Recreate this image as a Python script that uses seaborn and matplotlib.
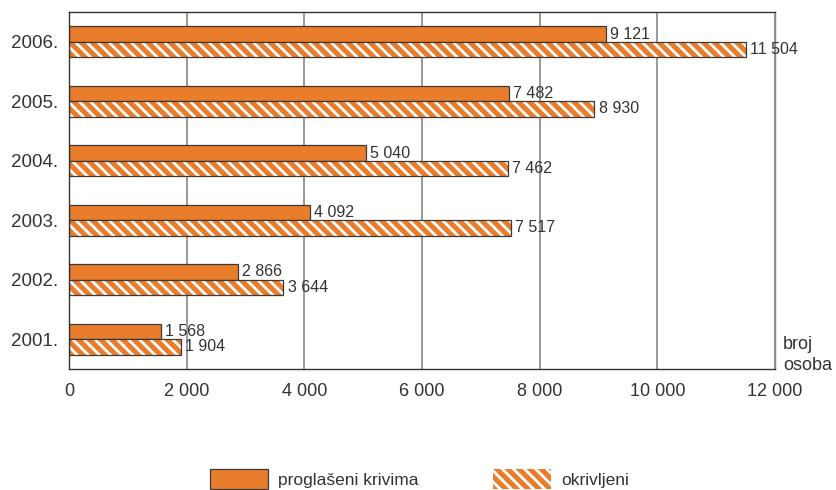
import matplotlib
matplotlib.use("Agg")
import matplotlib.pyplot as plt
import matplotlib.patches as mpatches
import pandas as pd
import seaborn as sns

# data
years = ["2006.", "2005.", "2004.", "2003.", "2002.", "2001."]
proglaseni = [9121, 7482, 5040, 4092, 2866, 1568]
okrivljeni = [11504, 8930, 7462, 7517, 3644, 1904]
series_names = ["proglašeni krivima", "okrivljeni"]
x_ticks = [0, 2000, 4000, 6000, 8000, 10000, 12000]

ORANGE = "#EA7D2B"
EDGE = "#3a3a3a"
HATCH = "\\\\\\"

sns.set_theme(style="white")
plt.rcParams["font.family"] = ["Liberation Sans Narrow", "Liberation Sans", "DejaVu Sans"]
plt.rcParams["hatch.linewidth"] = 2.0


def fmt(v):
    return f"{v:,}".replace(",", " ")


df = pd.DataFrame({
    "godina": years * 2,
    "broj": proglaseni + okrivljeni,
    "serija": [series_names[0]] * len(years) + [series_names[1]] * len(years),
})

fig, ax = plt.subplots(figsize=(8.37, 4.90), dpi=100)
fig.subplots_adjust(left=0.0824, right=0.926, top=0.9755, bottom=0.247)

sns.barplot(
    data=df, x="broj", y="godina", hue="serija", order=years,
    hue_order=series_names, orient="h", width=0.52, gap=0, saturation=1,
    palette=[ORANGE, ORANGE], edgecolor=EDGE, linewidth=0.9,
    legend=False, ax=ax,
)

# hatch the second series: white stripes, then redraw dark outline
hatched = ax.containers[1]
for bar in hatched:
    bar.set_hatch(HATCH)
    bar.set_edgecolor("white")
    bar.set_linewidth(0)
    ax.add_patch(mpatches.Rectangle(
        bar.get_xy(), bar.get_width(), bar.get_height(),
        fill=False, edgecolor=EDGE, linewidth=0.9, zorder=bar.get_zorder() + 0.1))

for cont, vals in zip(ax.containers, [proglaseni, okrivljeni]):
    ax.bar_label(cont, labels=[fmt(v) for v in vals], padding=3,
                 fontsize=11.5, color="#333333")

ax.set_xlim(0, 12000)
ax.set_xticks(x_ticks)
ax.set_xticklabels([fmt(v) for v in x_ticks])
ax.set_xlabel("")
ax.set_ylabel("")
ax.tick_params(axis="x", length=0, pad=10, labelsize=13, labelcolor="#333333")
ax.tick_params(axis="y", length=0, pad=8, labelsize=13.5, labelcolor="#333333")

ax.grid(axis="x", color="#888888", linewidth=1.2)
ax.set_axisbelow(True)
for side in ["left", "bottom", "top", "right"]:
    ax.spines[side].set_visible(True)
    ax.spines[side].set_color("#333333")
    ax.spines[side].set_linewidth(1.0)
ax.spines["right"].set_color("#888888")

ax.text(1.011, 0.04, "broj\nosoba", transform=ax.transAxes, fontsize=13,
        color="#333333", ha="left", va="center", linespacing=1.3)

handles = [
    mpatches.Patch(facecolor=ORANGE, edgecolor=EDGE, linewidth=0.9),
    mpatches.Patch(facecolor=ORANGE, edgecolor="white", hatch=HATCH, linewidth=0),
]
fig.legend(handles, series_names, loc="upper left", bbox_to_anchor=(0.241, 0.06),
           ncol=2, frameon=False, fontsize=12.5, handlelength=3.3, handleheight=1.4,
           columnspacing=4.3, handletextpad=0.6, borderpad=0, labelcolor="#333333")

fig.savefig("out.png", dpi=100)
